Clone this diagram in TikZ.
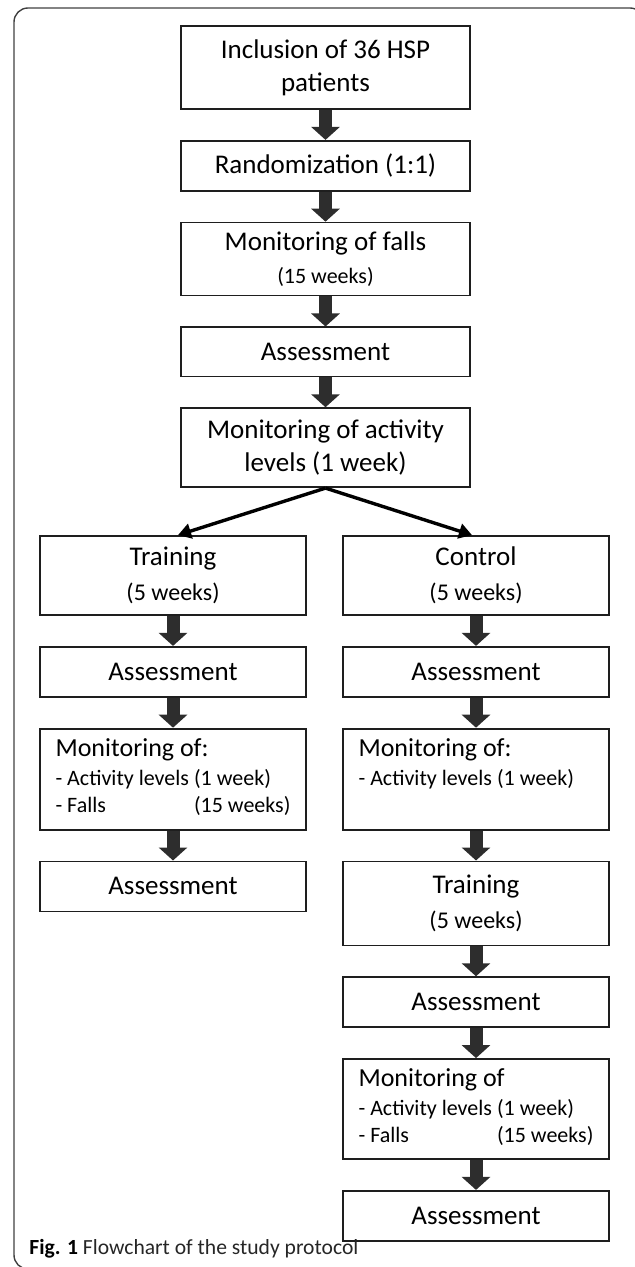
\documentclass[tikz,border=0pt]{standalone}
\usepackage{fontspec}
\setmainfont{Carlito}
\usetikzlibrary{positioning,arrows.meta,calc}
\definecolor{ink}{RGB}{30,30,30}
\definecolor{blkfill}{RGB}{45,45,45}
\newcommand{\wk}[1]{{\fontsize{12}{15}\selectfont #1}}
\newcommand{\lst}{\fontsize{11}{13.5}\selectfont}

\begin{document}
\begin{tikzpicture}[x=1pt,y=1pt,font=\fontsize{13.5}{16.5}\selectfont,node distance=15pt,
  box/.style={draw=ink,line width=0.9pt,minimum width=144.5pt,inner ysep=2pt,align=center},
  sbox/.style={box,minimum width=133pt},
  lbox/.style={sbox,minimum height=50.5pt,inner xsep=0pt},
  blk/.style={line width=6.5pt,draw=blkfill,-{Triangle[width=14pt,length=6.5pt]}},
  fork/.style={line width=1.7pt,draw=black,-{Triangle[width=7.5pt,length=6.5pt]}}]
  \useasboundingbox (0,0) rectangle (317,-633.5);
  % frame of the figure
  \draw[black!75,line width=0.7pt,rounded corners=7pt] (7,-4) rectangle (322,-634.5);
  % common trunk
  \node[box,minimum height=41.5pt] (incl) at (162.75,-33.75) {Inclusion of 36 HSP\\patients};
  \node[box,minimum height=25pt,below=of incl] (rand) {Randomization (1:1)};
  \node[box,minimum height=36.5pt,below=of rand] (falls) {Monitoring of falls\\{\fontsize{11}{13}\selectfont (15 weeks)}};
  \node[box,minimum height=24.5pt,below=of falls] (as1) {Assessment};
  \node[box,minimum height=39.5pt,below=of as1] (act) {Monitoring of activity\\levels (1 week)};
  % training arm
  \node[sbox,minimum height=39.5pt,below=23.5pt of act,xshift=-76.25pt] (trn) {Training\\[1pt]\wk{(5 weeks)}};
  \node[sbox,minimum height=25pt,below=of trn] (as2) {Assessment};
  \node[lbox,below=of as2] (mon1) {\lst\begin{tabular}{@{}l@{\ }l@{}}
    \multicolumn{2}{@{}l@{}}{\fontsize{13}{16}\selectfont Monitoring of:}\\[1pt]
    - Activity levels & (1 week)\\
    - Falls & (15 weeks)\end{tabular}};
  \node[sbox,minimum height=25pt,below=of mon1] (as4) {Assessment};
  % control arm
  \node[sbox,minimum height=39.5pt,below=23.5pt of act,xshift=75.25pt] (ctl) {Control\\[1pt]\wk{(5 weeks)}};
  \node[sbox,minimum height=25pt,below=of ctl] (as3) {Assessment};
  \node[lbox,below=of as3] (mon2) {\lst\begin{tabular}{@{}l@{\ }l@{}}
    \multicolumn{2}{@{}l@{}}{\fontsize{13}{16}\selectfont Monitoring of:}\\[1pt]
    - Activity levels & (1 week)\\
    \phantom{- Falls} & \phantom{(15 weeks)}\end{tabular}};
  \node[sbox,minimum height=42pt,below=of mon2] (trn2) {Training\\[1pt]\wk{(5 weeks)}};
  \node[sbox,minimum height=25pt,below=of trn2] (as5) {Assessment};
  \node[lbox,minimum height=50pt,below=of as5] (mon3) {\lst\begin{tabular}{@{}l@{\ }l@{}}
    \multicolumn{2}{@{}l@{}}{\fontsize{13}{16}\selectfont Monitoring of}\\[1pt]
    - Activity levels & (1 week)\\
    - Falls & (15 weeks)\end{tabular}};
  \node[sbox,minimum height=25pt,below=of mon3] (as6) {Assessment};
  % caption
  \node[anchor=west,inner sep=0pt,font=\fontsize{10.8}{13}\selectfont] (cap) at (14.5,-624.5)
    {\textbf{Fig. 1} {\color{black!85}Flowchart of the study protocol}};
  % arrows
  \foreach \a/\b in {incl/rand,rand/falls,falls/as1,as1/act,trn/as2,as2/mon1,mon1/as4,
    ctl/as3,as3/mon2,mon2/trn2,trn2/as5,as5/mon3,mon3/as6}
    \draw[blk] (\a)--(\b);
  \draw[fork] (act.south)--($(trn.north)+(2.5,0)$);
  \draw[fork] (act.south)--($(ctl.north)+(-2,0)$);
\end{tikzpicture}
\end{document}
